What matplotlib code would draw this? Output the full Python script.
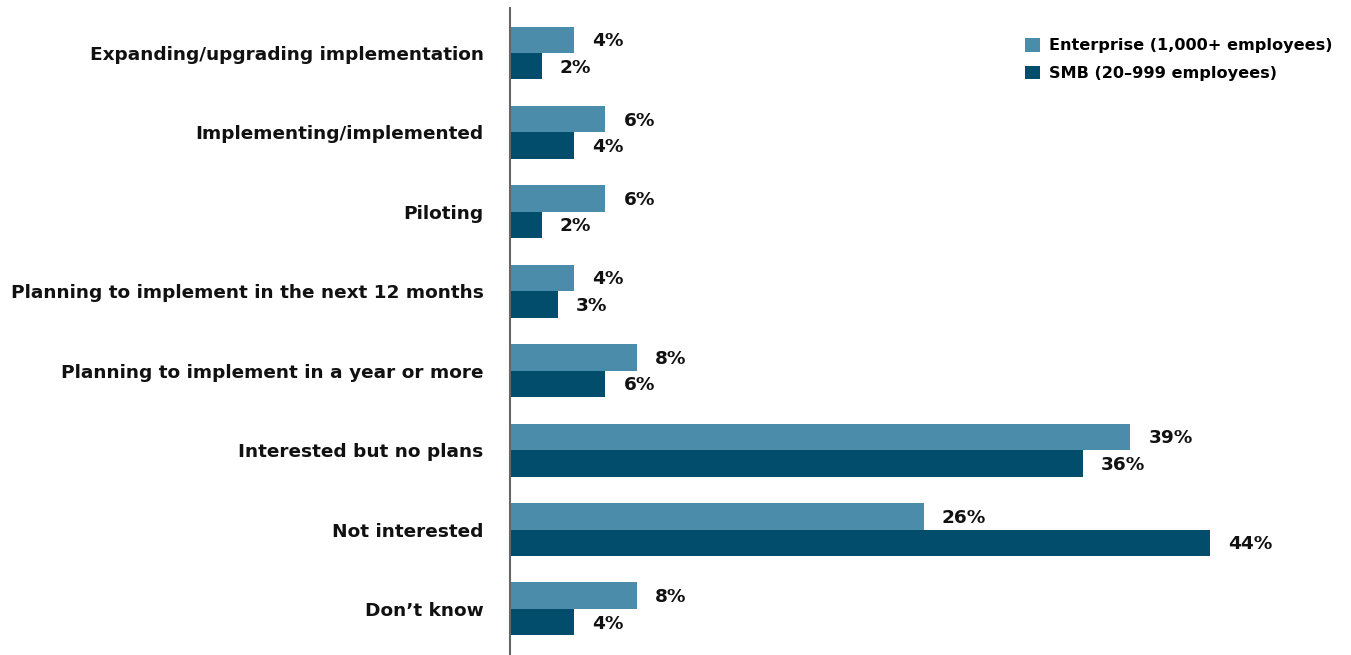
import numpy as np
import matplotlib.pyplot as plt

categories = ['Expanding/upgrading implementation', 'Implementing/implemented', 'Piloting',
              'Planning to implement in the next 12 months', 'Planning to implement in a year or more',
              'Interested but no plans', 'Not interested', 'Don\u2019t know']
enterprise = [4, 6, 6, 4, 8, 39, 26, 8]
smb = [2, 4, 2, 3, 6, 36, 44, 4]
series_names = ['Enterprise (1,000+ employees)', 'SMB (20\u2013999 employees)']

ent_color = '#4A8CA9'
smb_color = '#024C6C'

plt.rcParams['font.family'] = ['DejaVu Sans']
plt.rcParams['font.weight'] = 'bold'

fig = plt.figure(figsize=(13.51, 6.55), dpi=100)
ax = fig.add_axes([510 / 1351, 0, 800 / 1351, 647 / 655])

y = np.arange(len(categories))
h = 0.333
b1 = ax.barh(y - h / 2, enterprise, height=h, color=ent_color, label=series_names[0])
b2 = ax.barh(y + h / 2, smb, height=h, color=smb_color, label=series_names[1])

for bars, vals in ((b1, enterprise), (b2, smb)):
    for bar, v in zip(bars, vals):
        ax.annotate('%d%%' % v, (bar.get_width(), bar.get_y() + bar.get_height() / 2),
                    xytext=(13, -1), textcoords='offset points', va='center', ha='left',
                    fontsize=13.3, fontweight='bold', color='#111111')

ax.set_xlim(0, 50.3)
ax.set_ylim(7.58, -0.567)
ax.set_yticks(y)
ax.set_yticklabels(categories, fontsize=13.3, fontweight='bold', color='#111111')
ax.tick_params(axis='y', length=0, pad=19)
ax.set_xticks([])
for s in ['top', 'right', 'bottom']:
    ax.spines[s].set_visible(False)
ax.spines['left'].set_color('#666666')
ax.spines['left'].set_linewidth(1.5)

leg = fig.legend(loc='upper left', bbox_to_anchor=(1025 / 1351, 1 - 38 / 655), frameon=False,
                 fontsize=11.6, handlelength=0.95, handleheight=0.95, handletextpad=0.55,
                 labelspacing=0.75, borderaxespad=0, borderpad=0)
for t in leg.get_texts():
    t.set_fontweight('bold')

fig.savefig('out.png', dpi=100)
